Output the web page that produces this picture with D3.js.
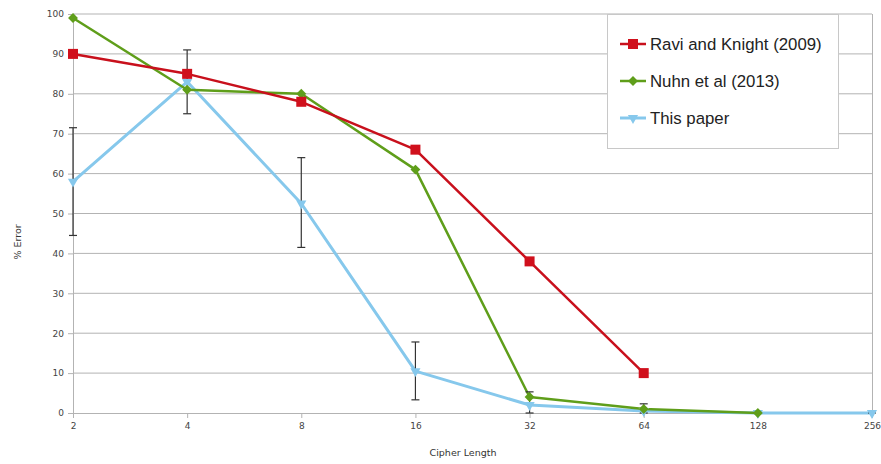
<!DOCTYPE html>
<html><head><meta charset="utf-8">
<script src="https://cdn.jsdelivr.net/npm/d3@7"></script>
<style>body{margin:0;background:#fff;}svg{display:block;font-family:"Liberation Sans",Arial,sans-serif;}</style>
</head><body>
<svg id="chart" width="881" height="464"></svg>
<script>
const categories = ["2","4","8","16","32","64","128","256"];
const yTicks = [0,10,20,30,40,50,60,70,80,90,100];
const raviValues = [90,85,78,66,38,10];
const nuhnValues = [99,81,80,61,4,1,0];
const paperValues = [58,83,52.5,10.5,2,0.5,0,0];
const paperErrLow = [44.5,75,41.5,3.3,0,0,0,0];
const paperErrHigh = [71.5,91,64,17.8,5.3,2.3,0.3,0.3];
const seriesNames = ["Ravi and Knight (2009)","Nuhn et al (2013)","This paper"];

const svg = d3.select("#chart");
const x = d3.scalePoint().domain(categories).range([73,872]);
const y = d3.scaleLinear().domain([0,100]).range([413,14]);

// grid
svg.append("g").selectAll("line").data(yTicks.filter(d=>d>0)).join("line")
  .attr("x1",73).attr("x2",872).attr("y1",d=>y(d)).attr("y2",d=>y(d))
  .attr("stroke","#b3b3b3").attr("stroke-width",1);
// right border
svg.append("line").attr("x1",872.5).attr("x2",872.5).attr("y1",y(100)).attr("y2",y(0))
  .attr("stroke","#b3b3b3");

// y axis
const yAxis = svg.append("g").attr("transform","translate(73,0)")
  .call(d3.axisLeft(y).tickValues(yTicks).tickSize(5).tickPadding(4));
yAxis.select(".domain").attr("stroke","#b3b3b3");
yAxis.selectAll(".tick line").attr("stroke","#b3b3b3");
yAxis.selectAll("text").attr("fill","#444").style("font-size","9px").style("font-family","DejaVu Sans, sans-serif");

// x axis
const xAxis = svg.append("g").attr("transform","translate(0,413)")
  .call(d3.axisBottom(x).tickSize(5).tickPadding(5));
xAxis.select(".domain").attr("stroke","#b3b3b3");
xAxis.selectAll(".tick line").attr("stroke","#b3b3b3");
xAxis.selectAll("text").attr("fill","#444").style("font-size","9px").style("font-family","DejaVu Sans, sans-serif");

// axis titles
svg.append("text").attr("x",463).attr("y",456).attr("text-anchor","middle")
  .style("font-size","9.5px").style("font-family","DejaVu Sans, sans-serif").attr("fill","#333").text("Cipher Length");
svg.append("text").attr("transform","translate(21,242) rotate(-90)").attr("text-anchor","middle")
  .style("font-size","9.5px").style("font-family","DejaVu Sans, sans-serif").attr("fill","#333").text("% Error");

const line = d3.line().x(d=>x(d.c)).y(d=>y(d.v));
function pts(vals){ return vals.map((v,i)=>({c:categories[i],v:v})); }

const colors = ["#c8101c","#5f9e1a","#86c8ec"];

// This paper
const pData = pts(paperValues);
svg.append("path").datum(pData).attr("d",line).attr("fill","none").attr("stroke",colors[2]).attr("stroke-width",3).attr("stroke-linejoin","round");
// Nuhn
const nData = pts(nuhnValues);
svg.append("path").datum(nData).attr("d",line).attr("fill","none").attr("stroke",colors[1]).attr("stroke-width",2.5).attr("stroke-linejoin","round");
// Ravi
const rData = pts(raviValues);
svg.append("path").datum(rData).attr("d",line).attr("fill","none").attr("stroke",colors[0]).attr("stroke-width",2.5).attr("stroke-linejoin","round");

// error bars
const eg = svg.append("g").attr("stroke","#333").attr("stroke-width",1.2);
categories.forEach((c,i)=>{
  const cx = x(c);
  eg.append("line").attr("x1",cx).attr("x2",cx).attr("y1",y(paperErrLow[i])).attr("y2",y(paperErrHigh[i]));
  eg.append("line").attr("x1",cx-4).attr("x2",cx+4).attr("y1",y(paperErrLow[i])).attr("y2",y(paperErrLow[i]));
  eg.append("line").attr("x1",cx-4).attr("x2",cx+4).attr("y1",y(paperErrHigh[i])).attr("y2",y(paperErrHigh[i]));
});

// markers
const tri = d3.symbol().type(d3.symbolTriangle).size(45);
svg.append("g").selectAll("path").data(pData).join("path")
  .attr("d",tri).attr("transform",d=>`translate(${x(d.c)},${y(d.v)}) rotate(180)`).attr("fill",colors[2]);
svg.append("g").selectAll("rect").data(nData).join("rect")
  .attr("x",-3.5).attr("y",-3.5).attr("width",7).attr("height",7)
  .attr("transform",d=>`translate(${x(d.c)},${y(d.v)}) rotate(45)`).attr("fill",colors[1]);
svg.append("g").selectAll("rect").data(rData).join("rect")
  .attr("x",d=>x(d.c)-5).attr("y",d=>y(d.v)-5).attr("width",10).attr("height",10).attr("fill","#d0101c");

// legend
const lg = svg.append("g");
lg.append("rect").attr("x",607.5).attr("y",14.5).attr("width",231).attr("height",134)
  .attr("fill","#fff").attr("stroke","#c8c8c8");
seriesNames.forEach((n,i)=>{
  const ly = 44 + i*37;
  lg.append("line").attr("x1",620).attr("x2",646).attr("y1",ly).attr("y2",ly).attr("stroke",colors[i]).attr("stroke-width",i==2?3:2.5);
  if(i==0) lg.append("rect").attr("x",628).attr("y",ly-5).attr("width",10).attr("height",10).attr("fill","#d0101c");
  if(i==1) lg.append("rect").attr("x",-3.5).attr("y",-3.5).attr("width",7).attr("height",7).attr("transform",`translate(633,${ly}) rotate(45)`).attr("fill",colors[1]);
  if(i==2) lg.append("path").attr("d",tri).attr("transform",`translate(633,${ly}) rotate(180)`).attr("fill",colors[2]);
  lg.append("text").attr("x",650).attr("y",ly+6).style("font-size","16.8px").attr("fill","#222").text(n);
});
</script>
</body></html>
